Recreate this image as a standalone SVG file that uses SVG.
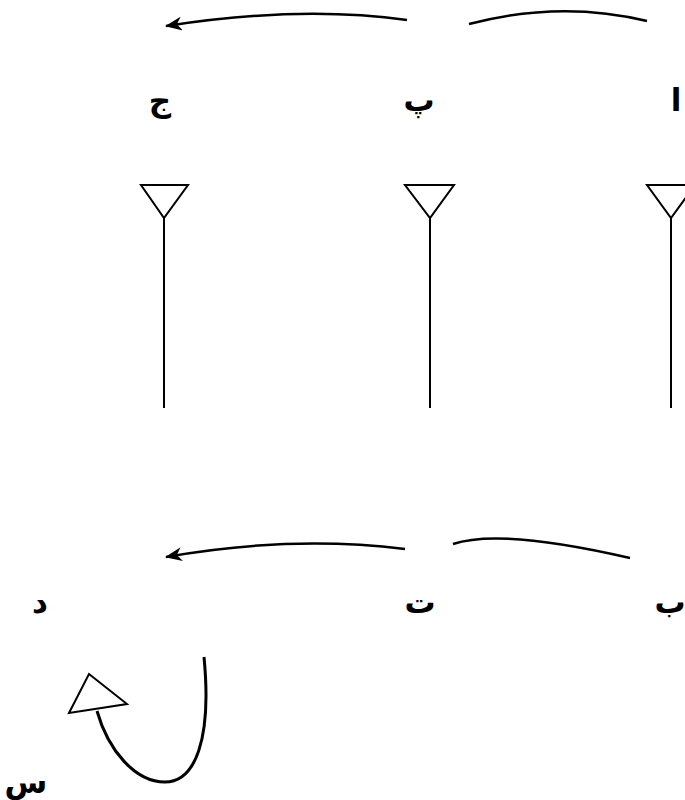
<svg xmlns="http://www.w3.org/2000/svg" width="685" height="800" viewBox="0 0 685 800">
<style>
.lbl{font-family:"DejaVu Sans","Noto Sans",sans-serif;font-weight:bold;font-size:31px;fill:#000;text-anchor:middle}
.ln{fill:none;stroke:#000;stroke-width:2.5}
.ant{fill:#fff;stroke:#000;stroke-width:2}
</style>
<defs>
<marker id="ah" markerWidth="18" markerHeight="14" refX="16" refY="7" orient="auto" markerUnits="userSpaceOnUse">
<path d="M0,0 L17,7 L0,14 L5,7 Z" fill="#000"/>
</marker>
</defs>
<rect width="685" height="800" fill="#fff"/>
<g id="connectors">
<path class="ln" d="M407,20 Q300,5 166,26" marker-end="url(#ah)"/>
<path class="ln" d="M469,24 Q560,0 647,21"/>
<path class="ln" d="M405,549 Q290,535 166,557" marker-end="url(#ah)"/>
<path class="ln" d="M453,544 Q500,528 630,558"/>
<path class="ln" style="stroke-width:3" d="M204,657 C212,740 195,782 165,782 C135,782 108,750 97,711"/>
<polygon class="ant" points="89,674 127,704 69,713"/>
</g>
<g id="node-alef"><text class="lbl" x="676" y="111">ا</text></g>
<g id="node-pe"><text class="lbl" x="419" y="111">پ</text></g>
<g id="node-jim"><text class="lbl" x="160" y="111">ج</text></g>
<g id="node-be"><text class="lbl" x="670" y="613">ب</text></g>
<g id="node-te"><text class="lbl" x="420" y="613">ت</text></g>
<g id="node-dal"><text class="lbl" x="40" y="613">د</text></g>
<g id="node-sin"><text class="lbl" x="26" y="793">س</text></g>
<g id="antenna-1"><polygon class="ant" points="141,185 188,185 164,218"/><line class="ant" x1="164" y1="218" x2="164" y2="408"/></g>
<g id="antenna-2"><polygon class="ant" points="405,185 454,185 430,218"/><line class="ant" x1="430" y1="218" x2="430" y2="408"/></g>
<g id="antenna-3"><polygon class="ant" points="647,185 695,185 671,218"/><line class="ant" x1="671" y1="218" x2="671" y2="408"/></g>
</svg>
